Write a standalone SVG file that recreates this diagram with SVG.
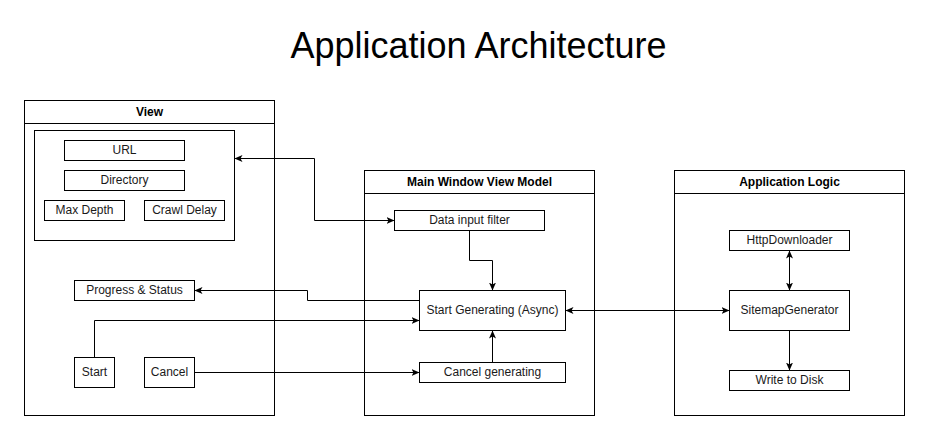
<svg xmlns="http://www.w3.org/2000/svg" width="929" height="440" viewBox="0 0 929 440">
<style>
  .box { fill: #ffffff; stroke: #000000; stroke-width: 1; }
  .line { fill: none; stroke: #000000; stroke-width: 1; }
  .lbl { font-family: "Liberation Sans", Arial, sans-serif; font-size: 12px; fill: #1a1a1a; text-anchor: middle; dominant-baseline: central; }
  .hdr { font-family: "Liberation Sans", Arial, sans-serif; font-size: 12px; font-weight: bold; fill: #000000; text-anchor: middle; dominant-baseline: central; }
  .title { font-family: "Liberation Sans", Arial, sans-serif; font-size: 36px; fill: #000000; text-anchor: middle; }
</style>
<defs>
  <marker id="arr" viewBox="0 0 8 8" refX="8" refY="4" markerWidth="8" markerHeight="8" markerUnits="userSpaceOnUse" orient="auto-start-reverse">
    <path d="M0,0.5 L8,4 L0,7.5 L2,4 Z" fill="#000000"/>
  </marker>
</defs>
<rect x="0" y="0" width="929" height="440" fill="#ffffff"/>
<text class="title" x="478.5" y="58">Application Architecture</text>
<g transform="translate(0.5,0.5)">
  <g id="view">
    <rect class="box" x="24" y="100" width="250" height="315"/>
    <line class="line" x1="24" y1="123" x2="274" y2="123"/>
    <text class="hdr" x="149" y="111">View</text>
  </g>
  <g id="view-inputs">
    <rect class="box" x="34" y="130" width="200" height="110"/>
  </g>
  <g id="url">
    <rect class="box" x="64" y="140" width="120" height="20"/>
    <text class="lbl" x="124" y="149.5">URL</text>
  </g>
  <g id="directory">
    <rect class="box" x="64" y="170" width="120" height="20"/>
    <text class="lbl" x="124" y="179.5">Directory</text>
  </g>
  <g id="max-depth">
    <rect class="box" x="44" y="200" width="80" height="20"/>
    <text class="lbl" x="84" y="209.5">Max Depth</text>
  </g>
  <g id="crawl-delay">
    <rect class="box" x="144" y="200" width="80" height="20"/>
    <text class="lbl" x="184" y="209.5">Crawl Delay</text>
  </g>
  <g id="progress">
    <rect class="box" x="74" y="280" width="120" height="20"/>
    <text class="lbl" x="134" y="289.5">Progress &amp; Status</text>
  </g>
  <g id="start">
    <rect class="box" x="74" y="357" width="40" height="30"/>
    <text class="lbl" x="94" y="371.5">Start</text>
  </g>
  <g id="cancel">
    <rect class="box" x="144" y="357" width="50" height="30"/>
    <text class="lbl" x="169" y="371.5">Cancel</text>
  </g>

  <g id="mwvm">
    <rect class="box" x="364" y="170" width="230" height="245"/>
    <line class="line" x1="364" y1="193" x2="594" y2="193"/>
    <text class="hdr" x="479" y="181">Main Window View Model</text>
  </g>
  <g id="data-filter">
    <rect class="box" x="394" y="210" width="150" height="20"/>
    <text class="lbl" x="469" y="219.5">Data input filter</text>
  </g>
  <g id="start-generating">
    <rect class="box" x="419" y="290" width="146" height="40"/>
    <text class="lbl" x="492" y="309.5">Start Generating (Async)</text>
  </g>
  <g id="cancel-generating">
    <rect class="box" x="419" y="362" width="146" height="20"/>
    <text class="lbl" x="492" y="371.5">Cancel generating</text>
  </g>

  <g id="app-logic">
    <rect class="box" x="674" y="170" width="230" height="245"/>
    <line class="line" x1="674" y1="193" x2="904" y2="193"/>
    <text class="hdr" x="789" y="181">Application Logic</text>
  </g>
  <g id="http-downloader">
    <rect class="box" x="729" y="230" width="120" height="20"/>
    <text class="lbl" x="789" y="239.5">HttpDownloader</text>
  </g>
  <g id="sitemap-generator">
    <rect class="box" x="729" y="290" width="120" height="40"/>
    <text class="lbl" x="789" y="309.5">SitemapGenerator</text>
  </g>
  <g id="write-disk">
    <rect class="box" x="729" y="370" width="120" height="20"/>
    <text class="lbl" x="789" y="379.5">Write to Disk</text>
  </g>

  <g id="connectors">
    <path class="line" d="M394,220 H314 V158 H234" marker-start="url(#arr)" marker-end="url(#arr)"/>
    <path class="line" d="M469,230 V260 H492 V290" marker-end="url(#arr)"/>
    <path class="line" d="M419,300 H307 V290 H194" marker-end="url(#arr)"/>
    <path class="line" d="M94,357 V320 H419" marker-end="url(#arr)"/>
    <path class="line" d="M194,372 H419" marker-end="url(#arr)"/>
    <path class="line" d="M492,362 V330" marker-end="url(#arr)"/>
    <path class="line" d="M565,310 H729" marker-start="url(#arr)" marker-end="url(#arr)"/>
    <path class="line" d="M789,250 V290" marker-start="url(#arr)" marker-end="url(#arr)"/>
    <path class="line" d="M789,330 V370" marker-end="url(#arr)"/>
  </g>
</g>
</svg>
